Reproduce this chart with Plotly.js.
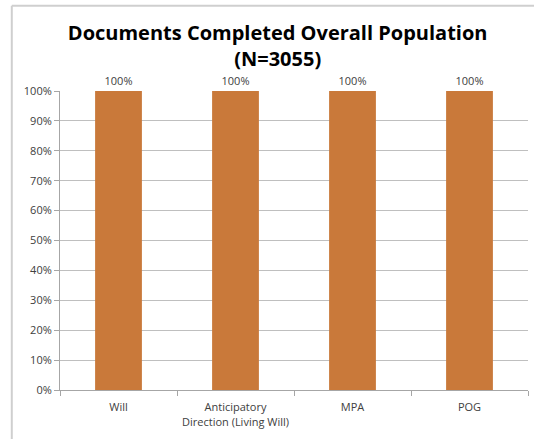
<!DOCTYPE html>
<html>
<head>
<meta charset="utf-8">
<script src="https://cdn.plot.ly/plotly-3.0.1.min.js"></script>
<style>html,body{margin:0;padding:0;background:#fff;}#chart{width:534px;height:439px;}</style>
</head>
<body>
<div id="chart"></div>
<script>
var categories = ["Will", "Anticipatory<br>Direction (Living Will)", "MPA", "POG"];
var values = [1.00, 1.00, 1.00, 1.00];
var valueLabels = ["100%", "100%", "100%", "100%"];
var yTickVals = [0, 0.1, 0.2, 0.3, 0.4, 0.5, 0.6, 0.7, 0.8, 0.9, 1.0];
var yTickText = ["0%", "10%", "20%", "30%", "40%", "50%", "60%", "70%", "80%", "90%", "100%"];

var trace = {
  type: "bar",
  x: categories,
  y: values,
  text: valueLabels,
  textposition: "outside",
  cliponaxis: false,
  textfont: {family: "Open Sans, sans-serif", size: 11, color: "#404040"},
  marker: {color: "#C9793A"},
  width: 0.4,
  hoverinfo: "none"
};

var layout = {
  width: 534,
  height: 439,
  margin: {l: 60, r: 6, t: 91, b: 49},
  paper_bgcolor: "#ffffff",
  plot_bgcolor: "#ffffff",
  showlegend: false,
  title: {
    text: "<b>Documents Completed Overall Population<br>(N=3055)</b>",
    font: {family: "Open Sans, sans-serif", size: 20, color: "#000000"},
    x: 0.52, xref: "container", xanchor: "center",
    y: 0.91, yref: "container", yanchor: "middle"
  },
  xaxis: {
    type: "category",
    showgrid: false,
    showline: true,
    linecolor: "#a6a6a6",
    linewidth: 1,
    ticks: "outside",
    tickson: "boundaries",
    ticklen: 5,
    tickcolor: "#a6a6a6",
    ticklabelstandoff: 7,
    tickfont: {family: "Open Sans, sans-serif", size: 11, color: "#404040"},
    fixedrange: true
  },
  yaxis: {
    range: [0, 1],
    tickvals: yTickVals,
    ticktext: yTickText,
    showgrid: true,
    gridcolor: "#bfbfbf",
    gridwidth: 1,
    zeroline: false,
    showline: true,
    linecolor: "#a6a6a6",
    ticks: "outside",
    ticklen: 5,
    tickcolor: "#a6a6a6",
    tickfont: {family: "Open Sans, sans-serif", size: 11, color: "#404040"},
    fixedrange: true
  },
  shapes: [
    {type: "line", xref: "paper", yref: "paper", x0: -0.103, x1: 1.02, y0: 1.285, y1: 1.285, line: {color: "#cfcfcf", width: 2}},
    {type: "line", xref: "paper", yref: "paper", x0: -0.103, x1: -0.103, y0: 1.285, y1: -0.17, line: {color: "#cfcfcf", width: 2}}
  ]
};

Plotly.newPlot("chart", [trace], layout, {displayModeBar: false, staticPlot: true});
</script>
</body>
</html>
